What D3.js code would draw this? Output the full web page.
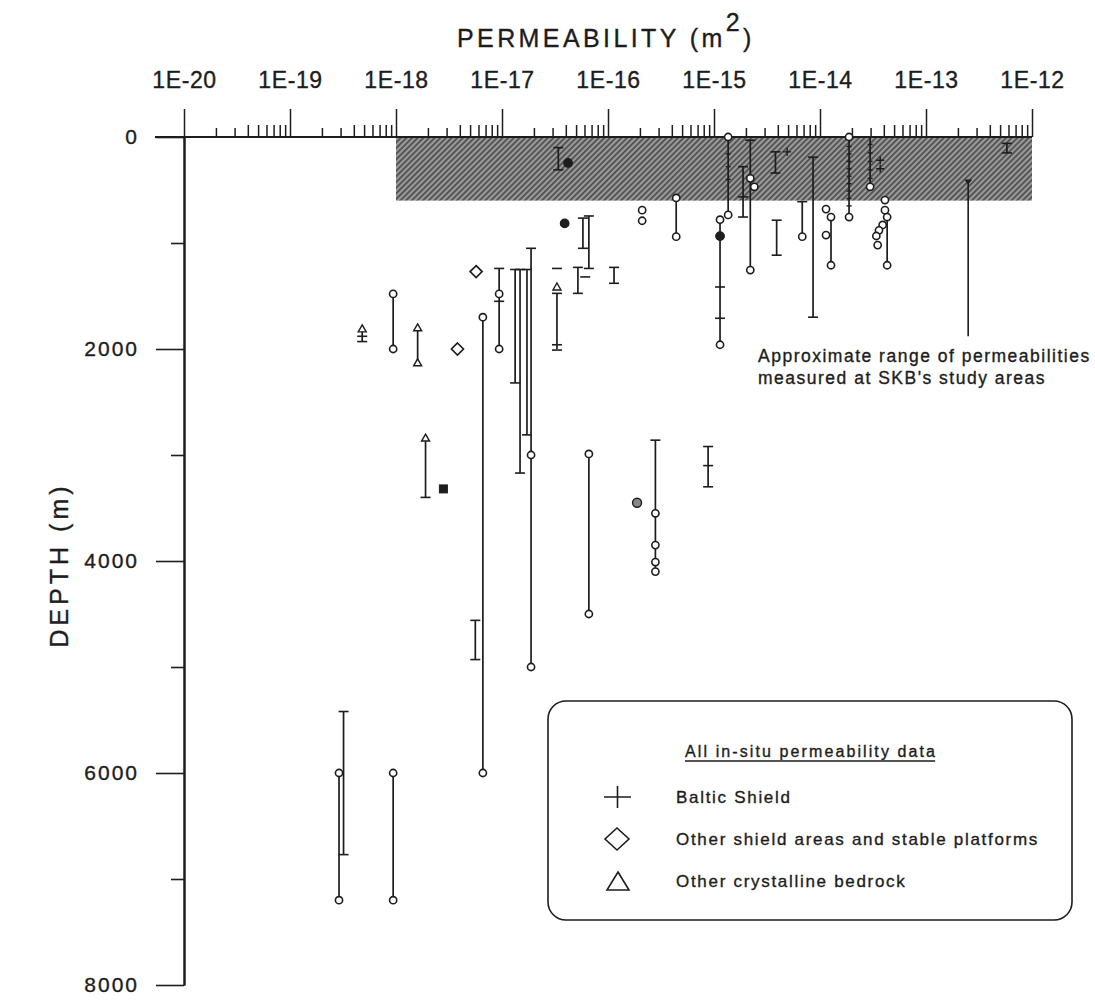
<!DOCTYPE html>
<html><head><meta charset="utf-8">
<script src="https://cdn.jsdelivr.net/npm/d3@7"></script>
<style>
body{margin:0;background:#fff;}
svg text{font-family:"Liberation Sans",Arial,Helvetica,sans-serif;fill:#1d1d1d;stroke:#1d1d1d;stroke-width:0.35px;}
</style></head><body>
<svg id="chart" width="1095" height="1001"></svg>
<script>
// ---------- data ----------
const decadeValues = [1e-20,1e-19,1e-18,1e-17,1e-16,1e-15,1e-14,1e-13,1e-12];
const decadeLabels = ["1E-20","1E-19","1E-18","1E-17","1E-16","1E-15","1E-14","1E-13","1E-12"];
const depthTicks = [0,2000,4000,6000,8000];
const depthLabels = ["0","2000","4000","6000","8000"];
const depthMinorTicks = [1000,3000,5000,7000];
const skbPermRange = [1e-18, 1e-12];
const skbDepthRange = [0, 600];
const annotK = 2.5e-13;
const annotDepth = [430, 1880];
const annotText = ["Approximate range of permeabilities", "measured at SKB's study areas"];
const legendTitle = "All in-situ permeability data";
const legendItems = ["Baltic Shield", "Other shield areas and stable platforms", "Other crystalline bedrock"];

// vertical ranges: [permeability, top depth, bottom depth]
const ranges = [
  [2.9e-19,6000,7200],[3.2e-19,5420,6770],[4.8e-19,1830,1930],
  [9.4e-19,1480,2000],[9.4e-19,6000,7200],[1.6e-18,1800,2130],
  [1.9e-18,2840,3400],[5.6e-18,4560,4930],[6.6e-18,1700,6000],
  [9.4e-18,1240,2000],[1.33e-17,1250,2320],[1.48e-17,1250,3170],
  [1.72e-17,1250,2810],[1.88e-17,1050,5000],[3.3e-17,1475,2000],
  [3.4e-17,100,310],[5.2e-17,1230,1475],[5.8e-17,765,1050],
  [6.6e-17,745,1240],[6.6e-17,2990,4500],[1.14e-16,1230,1380],
  [2.8e-16,2860,4100],[4.4e-16,575,940],[8.8e-16,2920,3300],
  [1.14e-15,780,1960],[1.36e-15,0,735],[1.88e-15,280,755],
  [2.2e-15,30,1255],[3.8e-15,140,340],[3.9e-15,785,1115],
  [6.8e-15,610,940],[8.6e-15,190,1700],[1.27e-14,755,1210],
  [1.88e-14,0,755],[2.97e-14,0,470],[4.3e-14,690,1210],
  [5.8e-13,60,150]
];
// Baltic Shield measurements (horizontal bars): [permeability, depth]
const balticBars = [
  [3.2e-19,5420],[3.2e-19,6770],[4.8e-19,1880],[4.8e-19,1930],
  [1.9e-18,3400],[5.6e-18,4560],[5.6e-18,4930],
  [9.4e-18,1240],[9.4e-18,1550],[1.33e-17,1250],[1.33e-17,2320],
  [1.48e-17,1250],[1.48e-17,3170],[1.72e-17,1250],[1.72e-17,2810],
  [1.88e-17,1050],[3.3e-17,1240],[3.3e-17,1475],[3.3e-17,1960],[3.3e-17,2010],
  [3.4e-17,100],[3.4e-17,310],[5.2e-17,1230],[5.2e-17,1475],[6.1e-17,1320],
  [5.8e-17,765],[5.8e-17,1050],[6.6e-17,745],[6.6e-17,1240],
  [1.14e-16,1230],[1.14e-16,1380],[2.8e-16,2860],
  [8.8e-16,2920],[8.8e-16,3100],[8.8e-16,3300],
  [1.14e-15,1415],[1.14e-15,1710],[1.88e-15,280],[1.88e-15,565],[1.88e-15,755],
  [2.2e-15,30],[3.8e-15,140],[3.8e-15,340],[3.9e-15,785],[3.9e-15,1115],
  [6.8e-15,610],[8.6e-15,190],[8.6e-15,1700],
  [5.8e-13,60],[5.8e-13,150]
];
// closely spaced Baltic Shield measurements along a borehole
const balticDots = [
  [1.88e-14,90],[1.88e-14,160],[1.88e-14,230],[1.88e-14,300],[1.88e-14,370],
  [1.88e-14,440],[1.88e-14,510],[1.88e-14,580],[1.88e-14,650],
  [2.97e-14,70],[2.97e-14,150],[2.97e-14,230],[2.97e-14,310],[2.97e-14,390],
  [1.36e-15,160],[1.36e-15,280],[1.36e-15,400]
];
// other shield areas (open markers at range ends)
const openMarks = [
  [2.9e-19,6000],[2.9e-19,7200],[9.4e-19,1480],[9.4e-19,2000],[9.4e-19,6000],[9.4e-19,7200],
  [6.6e-18,1700],[6.6e-18,6000],[9.4e-18,1480],[9.4e-18,2000],
  [1.88e-17,3000],[1.88e-17,5000],[6.6e-17,2990],[6.6e-17,4500],
  [2.1e-16,690],[2.1e-16,790],[2.8e-16,3550],[2.8e-16,3850],[2.8e-16,4010],[2.8e-16,4100],
  [4.4e-16,575],[4.4e-16,940],[1.14e-15,780],[1.14e-15,1960],
  [1.36e-15,0],[1.36e-15,735],[2.2e-15,390],[2.4e-15,470],[2.2e-15,1255],
  [6.8e-15,940],[1.14e-14,680],[1.27e-14,755],[1.14e-14,925],[1.27e-14,1210],
  [1.88e-14,0],[1.88e-14,755],[2.97e-14,470],
  [4.1e-14,595],[4.1e-14,690],[4.3e-14,755],[3.9e-14,830],[3.6e-14,880],
  [3.4e-14,934],[3.5e-14,1020],[4.3e-14,1210]
];
const filledMarks = [[4.2e-17,245],[3.9e-17,815],[1.14e-15,935]];
const shadedMarks = [[1.88e-16,3450]];
const squareMarks = [[2.8e-18,3320]];
const diamondMarks = [[5.7e-18,1270],[3.8e-18,2000]];
const triangleMarks = [[4.8e-19,1810],[1.6e-18,1800],[1.6e-18,2130],[1.9e-18,2840],[3.3e-17,1415]];
const plusMarks = [[4.9e-15,140],[3.7e-14,220],[3.7e-14,300]];

// ---------- drawing ----------
const svg = d3.select("#chart");
const x = d3.scaleLog().domain([1e-20,1e-12]).range([184,1032]);
const y = d3.scaleLinear().domain([0,8000]).range([137,985]);
const ink = "#1d1d1d";

const defs = svg.append("defs");
const pat = defs.append("pattern").attr("id","hatch").attr("width",4).attr("height",4)
  .attr("patternUnits","userSpaceOnUse").attr("patternTransform","rotate(45)");
pat.append("rect").attr("width",4).attr("height",4).attr("fill","#9a9a9a");
pat.append("rect").attr("width",1.7).attr("height",4).attr("fill","#4a4a4a");

// SKB shaded range
svg.append("rect")
  .attr("x", x(skbPermRange[0])).attr("y", y(skbDepthRange[0]))
  .attr("width", x(skbPermRange[1]) - x(skbPermRange[0]))
  .attr("height", y(skbDepthRange[1]) - y(skbDepthRange[0]))
  .attr("fill","url(#hatch)");

// top axis
const minorVals = [];
decadeValues.slice(0,-1).forEach(d => { for (let m=2;m<=9;m++) minorVals.push(m*d); });
const gTop = svg.append("g").attr("transform",`translate(0,${y(0)})`);
gTop.call(d3.axisTop(x).tickValues(decadeValues).tickSize(28).tickPadding(21)
  .tickFormat((d,i)=>decadeLabels[i]));
gTop.append("g").call(d3.axisTop(x).tickValues(minorVals.filter((v,i)=>i%8<2)).tickSize(9).tickFormat(""));
gTop.append("g").call(d3.axisTop(x).tickValues(minorVals.filter((v,i)=>i%8>=2)).tickSize(12).tickFormat(""));
gTop.selectAll("path.domain").remove();
gTop.selectAll("line").attr("stroke",ink).attr("stroke-width",1.5);
gTop.selectAll("text").attr("font-size",23).attr("letter-spacing",0.6).attr("fill",ink);
gTop.append("line").attr("x1",155).attr("x2",x(1e-12)).attr("stroke",ink).attr("stroke-width",2);

// left axis
const gLeft = svg.append("g").attr("transform",`translate(${x(1e-20)},0)`);
gLeft.call(d3.axisLeft(y).tickValues(depthTicks).tickSize(28).tickSizeOuter(0).tickPadding(17)
  .tickFormat((d,i)=>depthLabels[i]));
gLeft.append("g").call(d3.axisLeft(y).tickValues(depthMinorTicks).tickSize(13).tickSizeOuter(0).tickFormat(""));
gLeft.selectAll("path.domain").attr("stroke",ink).attr("stroke-width",2);
gLeft.selectAll("line").attr("stroke",ink).attr("stroke-width",1.6);
gLeft.selectAll("text").attr("font-size",21).attr("letter-spacing",2).attr("fill",ink);

// titles
const title = svg.append("text").attr("x",457).attr("y",47).attr("font-size",25).attr("letter-spacing",3.4);
title.append("tspan").text("PERMEABILITY (m");
title.append("tspan").attr("dy",-16).text("2");
title.append("tspan").attr("dy",16).text(")");
svg.append("text").attr("transform","translate(68,565) rotate(-90)").attr("text-anchor","middle")
  .attr("font-size",25).attr("letter-spacing",4).text("DEPTH (m)");

// data layer
const g = svg.append("g").attr("stroke",ink).attr("fill","none");
g.selectAll(".rng").data(ranges).join("line")
  .attr("x1",d=>x(d[0])).attr("x2",d=>x(d[0])).attr("y1",d=>y(d[1])).attr("y2",d=>y(d[2]))
  .attr("stroke-width",1.7);
g.selectAll(".bar").data(balticBars).join("line")
  .attr("x1",d=>x(d[0])-5).attr("x2",d=>x(d[0])+5).attr("y1",d=>y(d[1])).attr("y2",d=>y(d[1]))
  .attr("stroke-width",1.6);
g.selectAll(".dot").data(balticDots).join("line")
  .attr("x1",d=>x(d[0])-2.5).attr("x2",d=>x(d[0])+2.5).attr("y1",d=>y(d[1])).attr("y2",d=>y(d[1]))
  .attr("stroke-width",1.4);
g.selectAll(".plus").data(plusMarks).join("path")
  .attr("d",d=>`M${x(d[0])-4},${y(d[1])}h8M${x(d[0])},${y(d[1])-4}v8`).attr("stroke-width",1.4);
g.selectAll(".open").data(openMarks).join("circle")
  .attr("cx",d=>x(d[0])).attr("cy",d=>y(d[1])).attr("r",3.6).attr("fill","#fff").attr("stroke-width",1.6);
g.selectAll(".fill").data(filledMarks).join("circle")
  .attr("cx",d=>x(d[0])).attr("cy",d=>y(d[1])).attr("r",4.3).attr("fill",ink).attr("stroke-width",1.2);
g.selectAll(".shade").data(shadedMarks).join("circle")
  .attr("cx",d=>x(d[0])).attr("cy",d=>y(d[1])).attr("r",4.5).attr("fill","#888").attr("stroke-width",1.4);
g.selectAll(".sq").data(squareMarks).join("rect")
  .attr("x",d=>x(d[0])-4).attr("y",d=>y(d[1])-4).attr("width",8).attr("height",8).attr("fill",ink);
g.selectAll(".dia").data(diamondMarks).join("path")
  .attr("d",d=>`M${x(d[0])},${y(d[1])-6}l6,6l-6,6l-6,-6z`).attr("fill","#fff").attr("stroke-width",1.7);
g.selectAll(".tri").data(triangleMarks).join("path")
  .attr("d",d=>`M${x(d[0])},${y(d[1])-4}l4,7h-8z`).attr("fill","#fff").attr("stroke-width",1.4);

// annotation
svg.append("line").attr("x1",x(annotK)).attr("x2",x(annotK)).attr("y1",y(annotDepth[0])).attr("y2",y(annotDepth[1]))
  .attr("stroke",ink).attr("stroke-width",1.6);
svg.append("path").attr("d",`M${x(annotK)-4},${y(annotDepth[0])-3}h8l-4,5z`).attr("fill",ink);
annotText.forEach((t,i)=>svg.append("text").attr("x",758).attr("y",362+i*22)
  .attr("font-size",17.5).attr("letter-spacing",1.5).text(t));

// legend
svg.append("rect").attr("x",548).attr("y",701).attr("width",524).attr("height",219).attr("rx",18)
  .attr("fill","none").attr("stroke",ink).attr("stroke-width",1.6);
const lt = svg.append("text").attr("x",685).attr("y",757).attr("font-size",16).attr("letter-spacing",2.1).text(legendTitle);
const ltw = lt.node().getComputedTextLength();
svg.append("line").attr("x1",685).attr("x2",685+ltw-2).attr("y1",761).attr("y2",761).attr("stroke",ink).attr("stroke-width",1.3);
const rowY = [797,839,881];
legendItems.forEach((t,i)=>svg.append("text").attr("x",676).attr("y",rowY[i]+6)
  .attr("font-size",17).attr("letter-spacing",1.7).text(t));
const lg = svg.append("g").attr("stroke",ink).attr("fill","none").attr("stroke-width",1.6);
lg.append("path").attr("d",`M604,${rowY[0]}h27M617.5,${rowY[0]-11}v22`);
lg.append("path").attr("d",`M617,${rowY[1]-11}l12,11l-12,11l-12,-11z`);
lg.append("path").attr("d",`M618,${rowY[2]-9}l11,18h-22z`);
</script>
</body></html>
